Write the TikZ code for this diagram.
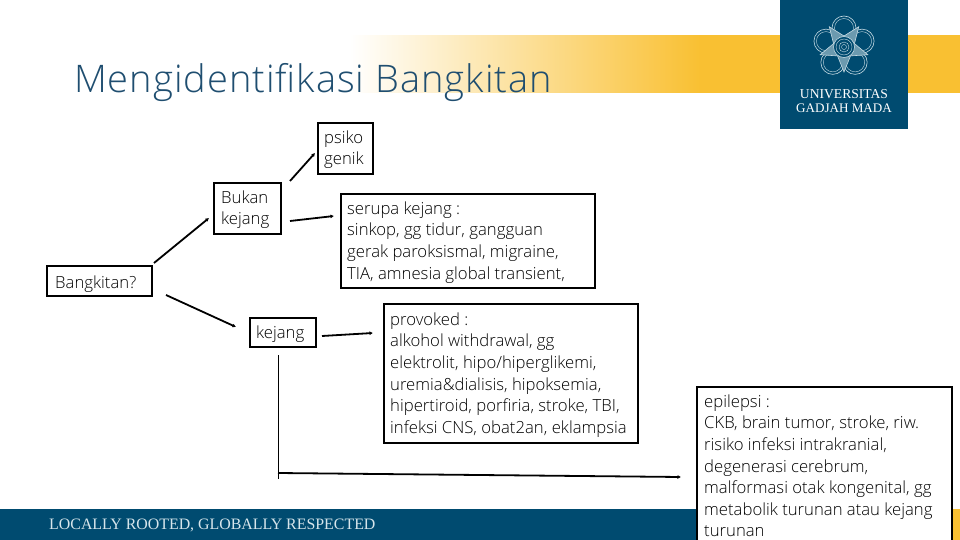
\documentclass[tikz,border=0pt]{standalone}
\usepackage{fontspec}
\setmainfont{Open Sans Light}[BoldFont=Open Sans]
\newfontfamily\logofont{Liberation Serif}
\newfontfamily\titlefont{Open Sans Light}[LetterSpace=2.6]
\usetikzlibrary{arrows.meta}
\definecolor{ugmblue}{HTML}{004B70}
\definecolor{ugmyellow}{HTML}{F9C032}
\definecolor{titleblue}{HTML}{1F4E70}
\definecolor{logoline}{HTML}{C5DAE3}
\tikzset{
  box/.style={draw=black,line width=1.8pt,fill=white,inner sep=0pt,anchor=north west},
  lbl/.style={inner sep=0pt,anchor=north west,align=left,font=\fontsize{16.7}{21.6}\selectfont},
  conn/.style={line width=1.8pt,-{Latex[length=3.5pt,width=4pt]}},
  petal/.style={draw=logoline,line width=.6pt},
}
\begin{document}
\begin{tikzpicture}[x=1pt,y=-1pt]
\useasboundingbox (0,0) rectangle (960,540);
\fill[white] (0,0) rectangle (960,540);
% header band
\begin{scope}
\clip (350,35.5) rectangle (960,93);
\shade[left color=white,right color=ugmyellow] (350,30) rectangle (701,98);
\fill[ugmyellow] (700,30) rectangle (960,98);
\end{scope}
% footer
\fill[ugmblue] (0,509) rectangle (696,540);
\fill[ugmyellow] (951,509) rectangle (960,540);
\node[inner sep=0pt,anchor=west,text=logoline!70!white,font=\logofont\fontsize{15.9}{18}\selectfont] (motto) at (49,525) {LOCALLY ROOTED, GLOBALLY RESPECTED};
% logo
\fill[ugmblue] (780,0) rectangle (908,129);
\coordinate (emb) at (844,47);
\foreach \a in {54,126,198,270,342}{
  \draw[petal,fill=ugmblue] ([shift={(\a:19)}]emb) circle (12);
  \draw[petal,line width=.4pt] ([shift={(\a:19)}]emb) circle (9.5);
}
\fill[ugmblue] (emb) circle (17);
\draw[petal,fill=logoline!55!ugmblue]
  ([shift={(90:25)}]emb) -- ([shift={(126:11)}]emb) -- ([shift={(162:25)}]emb) -- ([shift={(198:11)}]emb)
  -- ([shift={(234:25)}]emb) -- ([shift={(270:11)}]emb) -- ([shift={(306:25)}]emb)
  -- ([shift={(342:11)}]emb) -- ([shift={(18:25)}]emb) -- ([shift={(54:11)}]emb) -- cycle;
\draw[petal,fill=ugmblue] (emb) circle (10.5);
\draw[petal,line width=.4pt] (emb) circle (8);
\draw[petal,line width=.4pt] (emb) circle (5);
\draw[petal,line width=.4pt] (emb) circle (2.5);
\node[inner sep=0pt,text=white,font=\logofont\fontsize{13.6}{15}\selectfont] (univ) at (844,94) {UNIVERSITAS};
\node[inner sep=0pt,text=white,font=\logofont\fontsize{13.1}{15}\selectfont] (gadjah) at (844,108) {GADJAH MADA};
% title
\node[inner sep=0pt,anchor=base west,text=titleblue,font=\titlefont\fontsize{38}{42}\selectfont] (title) at (74,93) {Mengidentifikasi Bangkitan};
% boxes
\node[box,minimum width=55pt,minimum height=51pt] (psiko) at (317,122) {};
\node[box,minimum width=67pt,minimum height=51pt] (bukan) at (213,182) {};
\node[box,minimum width=254pt,minimum height=94pt] (serupa) at (340,193) {};
\node[box,minimum width=105pt,minimum height=30pt] (bang) at (46,265) {};
\node[box,minimum width=66pt,minimum height=29pt] (kejang) at (249,317) {};
\node[box,minimum width=254pt,minimum height=139pt] (prov) at (383,303) {};
\node[box,minimum width=255pt,minimum height=160pt] (epi) at (696,386) {};
\node[lbl] (t1) at (324,130.5) {psiko\\genik};
\node[lbl] (t2) at (221,190.5) {Bukan\\kejang};
\node[lbl] (t3) at (347,201.5) {serupa kejang :\\sinkop, gg tidur, gangguan\\gerak paroksismal, migraine,\\TIA, amnesia global transient,};
\node[lbl] (t4) at (55,275.5) {Bangkitan?};
\node[lbl] (t5) at (256,325.5) {kejang};
\node[lbl] (t6) at (390,312.5) {provoked :\\alkohol withdrawal, gg\\elektrolit, hipo/hiperglikemi,\\uremia\&dialisis, hipoksemia,\\hipertiroid, porfiria, stroke, TBI,\\infeksi CNS, obat2an, eklampsia};
\node[lbl] (t7) at (704,394.5) {epilepsi :\\CKB, brain tumor, stroke, riw.\\risiko infeksi intrakranial,\\degenerasi cerebrum,\\malformasi otak kongenital, gg\\metabolik turunan atau kejang\\turunan};
% connectors
\coordinate (a1) at (290,181); \coordinate (a2) at (315,153);
\coordinate (b1) at (290,221); \coordinate (b2) at (334,216);
\coordinate (c1) at (154,263); \coordinate (c2) at (209,218);
\coordinate (d1) at (166,295); \coordinate (d2) at (236,327);
\coordinate (e1) at (322,336); \coordinate (e2) at (373,333);
\coordinate (f1) at (278,473); \coordinate (f2) at (681,477);
\coordinate (g1) at (278,355); \coordinate (g2) at (278,479);
\draw[conn] (a1) -- (a2);
\draw[conn] (b1) -- (b2);
\draw[conn] (c1) -- (c2);
\draw[conn] (d1) -- (d2);
\draw[conn] (e1) -- (e2);
\draw[conn] (f1) -- (f2);
\draw[line width=.8pt] (g1) -- (g2);
\end{tikzpicture}
\end{document}
